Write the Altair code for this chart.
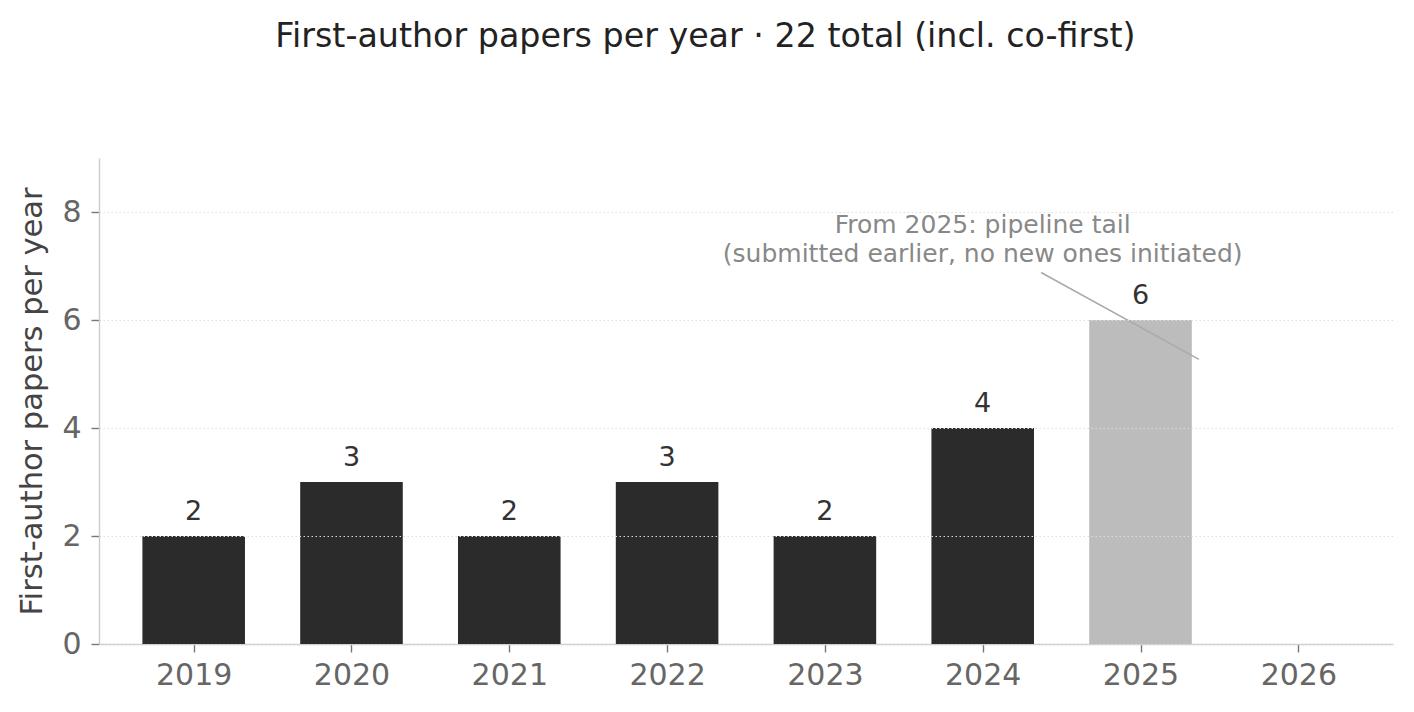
import altair as alt
import pandas as pd

years = [2019, 2020, 2021, 2022, 2023, 2024, 2025, 2026]
counts = [2, 3, 2, 3, 2, 4, 6, 0]
phase = ["active", "active", "active", "active", "active", "active", "pipeline", "pipeline"]

ann_lines = ["From 2025: pipeline tail", "(submitted earlier, no new ones initiated)"]
ann_x = [2024.0]
ann_y = [7.755]
arrow_x = [2024.37, 2025.37]
arrow_y = [6.88, 5.27]

FONT = "DejaVu Sans"

df = pd.DataFrame({"year": years, "count": counts, "phase": phase})
ann_df = pd.DataFrame({"x": ann_x, "y": ann_y, "label": [ann_lines]})
arrow_df = pd.DataFrame({"x": arrow_x, "y": arrow_y, "o": [0, 1]})

xscale = alt.Scale(domain=[2018.4, 2026.6], nice=False, zero=False)
yscale = alt.Scale(domain=[0, 9], nice=False)

xaxis = alt.Axis(values=years, format="d", title=None, grid=False,
                 labelFontSize=30, labelColor="#666666", labelFont=FONT,
                 labelPadding=8, tickSize=8, tickColor="#777777", tickWidth=1.4,
                 domainColor="#cccccc", domainWidth=1.4)
yaxis = alt.Axis(values=[0, 2, 4, 6, 8], format="d", title="First-author papers per year",
                 titleFontSize=30.5, titleColor="#444444", titleFont=FONT,
                 titleFontWeight="normal", titlePadding=14,
                 labelFontSize=30, labelColor="#666666", labelFont=FONT,
                 labelPadding=10, tickSize=8, tickColor="#777777", tickWidth=1.4,
                 domainColor="#cccccc", domainWidth=1.4,
                 grid=True, gridColor="#dddddd", gridDash=[1.5, 2.5], gridWidth=1,
                 zindex=1)

bars = alt.Chart(df).transform_filter("datum.count > 0").transform_calculate(
    x0="datum.year - 0.325", x1="datum.year + 0.325"
).mark_bar().encode(
    x=alt.X("x0:Q", scale=xscale, axis=xaxis),
    x2="x1:Q",
    y=alt.Y("count:Q", scale=yscale, axis=yaxis),
    y2=alt.datum(0),
    color=alt.Color("phase:N", scale=alt.Scale(domain=["active", "pipeline"],
                                               range=["#2b2b2b", "#bcbcbc"]), legend=None),
)

labels = alt.Chart(df).transform_filter("datum.count > 0").mark_text(
    baseline="bottom", dy=-10, fontSize=27, color="#333333", font=FONT
).encode(
    x=alt.X("year:Q", scale=xscale),
    y=alt.Y("count:Q", scale=yscale),
    text=alt.Text("count:Q", format="d"),
)

ann = alt.Chart(ann_df).mark_text(
    fontSize=25, color="#888888", font=FONT, lineHeight=29, baseline="middle", align="center"
).encode(
    x=alt.X("x:Q", scale=xscale),
    y=alt.Y("y:Q", scale=yscale),
    text="label",
)

arrow = alt.Chart(arrow_df).mark_line(color="#aaaaaa", strokeWidth=1.6).encode(
    x=alt.X("x:Q", scale=xscale),
    y=alt.Y("y:Q", scale=yscale),
    order="o:Q",
)

chart = alt.layer(bars, labels, arrow, ann).properties(
    width=1294, height=486,
    background="white",
    autosize=alt.AutoSizeParams(type="none"),
    title=alt.TitleParams("First-author papers per year · 22 total (incl. co-first)",
                          fontSize=33.3, font=FONT, fontWeight="normal", color="#222222",
                          anchor="middle", frame="bounds", offset=104),
    padding={"left": 91, "top": 150, "right": 13, "bottom": 60},
).configure_view(strokeWidth=0, stroke="transparent")

chart.save("out.html", embed_options={"renderer": "svg", "actions": False})
